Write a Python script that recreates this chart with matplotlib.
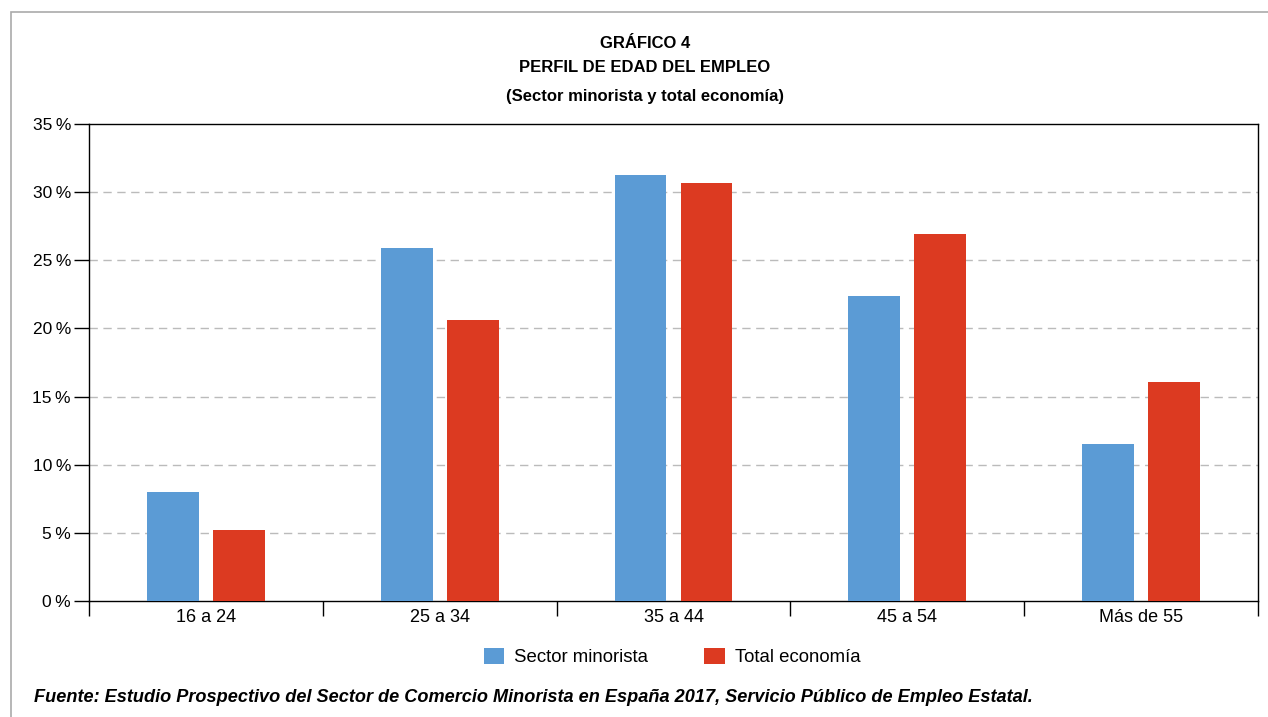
import numpy as np
import matplotlib.pyplot as plt
from matplotlib.patches import Rectangle

plt.rcParams['font.family'] = ['Liberation Sans', 'DejaVu Sans']

# datos
grupos = ['16 a 24', '25 a 34', '35 a 44', '45 a 54', 'Más de 55']
minorista = [8.0, 25.9, 31.25, 22.4, 11.5]
total = [5.2, 20.6, 30.7, 26.9, 16.1]
yticks = [0, 5, 10, 15, 20, 25, 30, 35]

azul = '#5B9BD5'
rojo = '#DC3A21'

fig = plt.figure(figsize=(12.68, 7.17), dpi=100)
W, H = 1268, 717
ax = fig.add_axes([89 / W, 1 - 601 / H, (1258 - 89) / W, (601 - 124) / H])

x = np.arange(len(grupos))
ancho = 0.222
ax.bar(x - 0.141, minorista, ancho, color=azul, label='Sector minorista', zorder=3)
ax.bar(x + 0.141, total, ancho, color=rojo, label='Total economía', zorder=3)

ax.set_xlim(-0.5, len(grupos) - 0.5)
ax.set_ylim(0, 35)
ax.set_yticks(yticks)
ax.set_yticklabels([f'{v}\u2009%' for v in yticks], fontsize=12.5)
ax.tick_params(axis='y', length=11, width=1, pad=2)

# marcas del eje x en los límites de cada grupo
ax.set_xticks(np.arange(len(grupos) + 1) - 0.5)
ax.set_xticklabels([])
ax.set_xticks(x, minor=True)
ax.set_xticklabels(grupos, minor=True, fontsize=13)
ax.tick_params(axis='x', which='major', length=11, width=1, direction='out')
ax.tick_params(axis='x', which='minor', length=0, pad=6)

for v in yticks[1:-1]:
    ax.axhline(v, color='#BBBBBB', lw=1, ls=(0, (6, 4)), zorder=1)

for s in ax.spines.values():
    s.set_color('black')
    s.set_linewidth(1)

# títulos
xc = 645 / W
fig.text(xc, 1 - 43 / H, 'GRÁFICO 4', ha='center', va='center', fontsize=12, fontweight='bold')
fig.text(xc, 1 - 68 / H, 'PERFIL DE EDAD DEL EMPLEO', ha='center', va='center', fontsize=12, fontweight='bold')
fig.text(xc, 1 - 96 / H, '(Sector minorista y total economía)', ha='center', va='center', fontsize=12, fontweight='bold')

# leyenda
fig.legend(loc='center', bbox_to_anchor=(672 / W, 1 - 657 / H), ncol=2, frameon=False,
           fontsize=13.4, handlelength=1.1, handleheight=1.0, columnspacing=3.0, handletextpad=0.55)

fig.text(34 / W, 1 - 697 / H,
         'Fuente: Estudio Prospectivo del Sector de Comercio Minorista en España 2017, Servicio Público de Empleo Estatal.',
         ha='left', va='center', fontsize=13.1, fontweight='bold', fontstyle='italic')

# marco gris exterior
fig.add_artist(Rectangle((10.5 / W, -0.01), 1.1, 1 - 12 / H + 0.01, transform=fig.transFigure,
                         fill=False, edgecolor='#AAAAAA', lw=1.2))

fig.savefig('out.png', dpi=100)
